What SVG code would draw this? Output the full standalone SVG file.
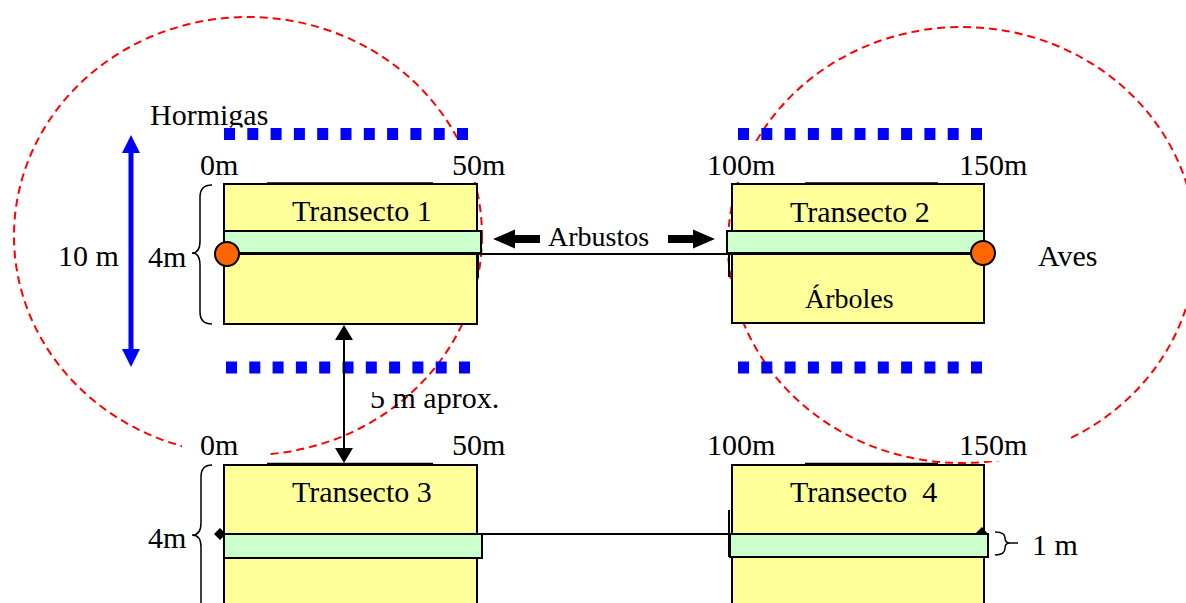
<svg xmlns="http://www.w3.org/2000/svg" width="1186" height="603" viewBox="0 0 1186 603">
<style>
text{font-family:'Liberation Serif','Times New Roman',serif;font-size:30px;fill:#000}
.s{font-size:28px}
.zone{fill:none;stroke:#FF0000;stroke-width:2;stroke-dasharray:8 5}
.box{fill:#FFFF99;stroke:#000;stroke-width:2}
.strip{fill:#CCFFCC;stroke:#000;stroke-width:2}
.dots{stroke:#0000FF;stroke-width:12;stroke-dasharray:11 12.3;fill:none}
.ln{stroke:#000;stroke-width:2;fill:none}
.thin{stroke:#000;stroke-width:1.5;fill:none}
.lbl{fill:#fff}
</style>
<defs>
<clipPath id="clipH"><rect x="0" y="0" width="1186" height="127.5"/></clipPath>
<clipPath id="clipA"><rect x="0" y="392" width="1186" height="40"/></clipPath>
</defs>
<rect width="1186" height="603" fill="#fff"/>
<g id="zones">
<ellipse class="zone" cx="248" cy="236" rx="234" ry="219"/>
<ellipse class="zone" cx="962" cy="245" rx="234" ry="218"/>
</g>
<g id="label-backgrounds">
<rect class="lbl" x="440" y="141" width="75" height="41"/>
<rect class="lbl" x="700" y="141" width="85" height="41"/>
<rect class="lbl" x="182" y="428" width="85" height="33"/>
<rect class="lbl" x="938" y="428" width="129" height="33"/>
</g>
<g id="ant-lines">
<line class="dots" x1="224" y1="134" x2="470" y2="134"/>
<line class="dots" x1="226" y1="367.5" x2="472" y2="367.5"/>
<line class="dots" x1="738" y1="134" x2="984" y2="134"/>
<line class="dots" x1="738" y1="367.5" x2="984" y2="367.5"/>
</g>
<g id="transecto1" font-family="Liberation Serif, serif">
<line class="thin" x1="267" y1="183" x2="433" y2="183"/>
<rect class="box" x="224" y="184" width="253" height="140"/>
<text x="292" y="221" font-family="Liberation Serif, serif">Transecto 1</text>
</g>
<g id="transecto2" font-family="Liberation Serif, serif">
<line class="thin" x1="805" y1="183" x2="938" y2="183"/>
<rect class="box" x="732" y="184" width="252" height="139"/>
<text x="790" y="222" font-family="Liberation Serif, serif">Transecto 2</text>
<text class="s" x="805" y="308" font-family="Liberation Serif, serif">Árboles</text>
</g>
<g id="transecto3" font-family="Liberation Serif, serif">
<line class="thin" x1="267" y1="463.5" x2="433" y2="463.5"/>
<rect class="box" x="224" y="465" width="253" height="150"/>
<text x="292" y="502" font-family="Liberation Serif, serif">Transecto 3</text>
</g>
<g id="transecto4" font-family="Liberation Serif, serif">
<line class="thin" x1="805" y1="463.5" x2="938" y2="463.5"/>
<rect class="box" x="732" y="465" width="252" height="150"/>
<text x="790" y="502" xml:space="preserve" font-family="Liberation Serif, serif">Transecto  4</text>
</g>
<g id="connectors">
<line class="ln" x1="227" y1="254" x2="983" y2="254"/>
<line class="ln" x1="220" y1="534" x2="984" y2="534"/>
<polygon points="214,534 220,528 226,534 220,540" fill="#000"/>
<polygon points="975,534 982,527 988,534" fill="#000"/>
</g>
<g id="strips">
<rect class="strip" x="224" y="231" width="257" height="22"/>
<rect class="strip" x="727" y="231" width="257" height="22"/>
<rect class="strip" x="224" y="534" width="258" height="24"/>
<rect class="strip" x="730" y="534" width="258" height="23"/>
<line class="ln" x1="478" y1="253" x2="478" y2="278" stroke-width="2.5"/>
<line class="ln" x1="729" y1="253" x2="729" y2="277" stroke-width="2.5"/>
<line class="ln" x1="729" y1="510" x2="729" y2="557" stroke-width="2.5"/>
</g>
<g id="points">
<circle cx="227" cy="254" r="12" fill="#FF6600" stroke="#000" stroke-width="2"/>
<circle cx="983" cy="253" r="12" fill="#FF6600" stroke="#000" stroke-width="2"/>
</g>
<g id="arrows">
<line x1="131" y1="150" x2="131" y2="352" stroke="#0000FF" stroke-width="5"/>
<polygon points="131,135 122,153 140,153" fill="#0000FF"/>
<polygon points="131,367 122,349 140,349" fill="#0000FF"/>
<line class="ln" x1="344" y1="338" x2="344" y2="450"/>
<polygon points="344,325 335,340 353,340" fill="#000"/>
<polygon points="344,463 335,448 353,448" fill="#000"/>
<polygon points="493,239 515,229.5 515,235 540,235 540,243 515,243 515,248.5" fill="#000"/>
<polygon points="715,239 693,229.5 693,235 668,235 668,243 693,243 693,248.5" fill="#000"/>
</g>
<g id="braces">
<path class="thin" d="M212,185 Q200,185 200,197 L200,241 Q200,253 192,253 Q200,253 200,265 L200,312 Q200,324 212,324"/>
<path class="thin" d="M212,465 Q201,465 201,477 L201,523 Q201,535 192,535 Q201,535 201,547 L201,610"/>
<path class="thin" d="M995,532 Q1005,532 1005,538 Q1005,543 1010,543 L1018,543 M1010,543 Q1005,543 1005,548 Q1005,555 995,555"/>
</g>
<g id="labels" font-family="Liberation Serif, serif">
<text x="150" y="125" clip-path="url(#clipH)" font-family="Liberation Serif, serif">Hormigas</text>
<text x="58" y="266" font-family="Liberation Serif, serif">10 m</text>
<text x="148" y="267" font-family="Liberation Serif, serif">4m</text>
<text x="148" y="548" font-family="Liberation Serif, serif">4m</text>
<text x="200" y="175" font-family="Liberation Serif, serif">0m</text>
<text x="452" y="175" font-family="Liberation Serif, serif">50m</text>
<text x="707" y="175" font-family="Liberation Serif, serif">100m</text>
<text x="959" y="175" font-family="Liberation Serif, serif">150m</text>
<text x="200" y="455" font-family="Liberation Serif, serif">0m</text>
<text x="452" y="455" font-family="Liberation Serif, serif">50m</text>
<text x="707" y="455" font-family="Liberation Serif, serif">100m</text>
<text x="959" y="455" font-family="Liberation Serif, serif">150m</text>
<text class="s" x="548" y="246" font-family="Liberation Serif, serif">Arbustos</text>
<text x="1038" y="266" font-family="Liberation Serif, serif">Aves</text>
<text x="1032" y="555" font-family="Liberation Serif, serif">1 m</text>
<text x="370" y="408" clip-path="url(#clipA)" font-family="Liberation Serif, serif">5 m aprox.</text>
</g>
</svg>
